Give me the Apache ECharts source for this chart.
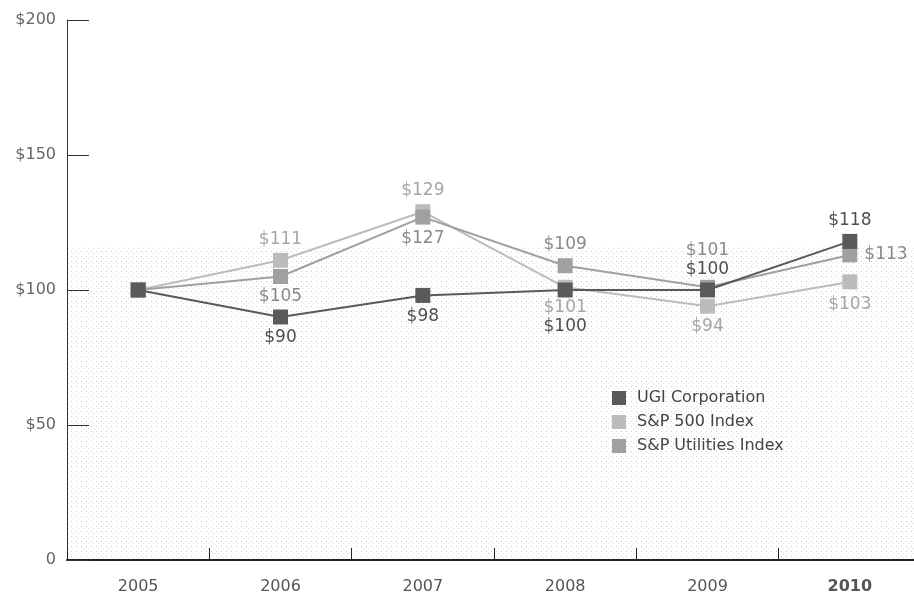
<!DOCTYPE html>
<html lang="en">
<head>
    <meta charset="UTF-8">
    <title>UGI total return</title>
    <style type="text/css">
        body{
            margin: 0;
            background-color: #fff;
        }
        #chart{
            width: 914px;
            height: 593px;
        }
    </style>
    <script src="https://cdn.jsdelivr.net/npm/echarts@6/dist/echarts.min.js"></script>
</head>
<body>
<div id="chart"></div>
<script type="text/javascript">
    var years = ['2005', '2006', '2007', '2008', '2009', '2010'];
    var ugi = [100, 90, 98, 100, 100, 118];
    var sp500 = [100, 111, 129, 101, 94, 103];
    var utilities = [100, 105, 127, 109, 101, 113];
    var yTicks = [0, 50, 100, 150, 200];

    var FONT = 'DejaVu Sans';

    // where each value label sits (null = no label)
    var ugiPos = [null, ['bottom', 5], ['bottom', 5], ['bottom', 21], ['top', 4], ['top', 5]];
    var spPos = [null, ['top', 5], ['top', 5], ['bottom', 4], ['bottom', 4], ['bottom', 7]];
    var utilPos = [null, ['bottom', 4], ['bottom', 5], ['top', 5], ['top', 21], ['right', 7]];

    function stipple() {
        var c = document.createElement('canvas');
        c.width = 5; c.height = 5;
        var ctx = c.getContext('2d');
        ctx.fillStyle = '#ffffff';
        ctx.fillRect(0, 0, 5, 5);
        ctx.fillStyle = '#cdcdcd';
        ctx.fillRect(1, 1, 1, 1);
        ctx.fillStyle = '#e0e0e0';
        ctx.fillRect(3, 3, 1, 1);
        return c;
    }

    function points(values, pos, color) {
        return values.map(function (v, i) {
            var item = {value: v};
            if (pos[i]) {
                item.label = {show: true, position: pos[i][0], distance: pos[i][1], color: color};
            }
            return item;
        });
    }

    function line(name, values, pos, color, labelColor, z) {
        return {
            name: name,
            type: 'line',
            data: points(values, pos, labelColor),
            symbol: 'rect',
            symbolSize: 15,
            z: z,
            lineStyle: {color: color, width: 2},
            itemStyle: {color: color},
            label: {
                formatter: '${c}',
                fontFamily: FONT,
                fontSize: 17
            },
            emphasis: {disabled: true}
        };
    }

    var chart = echarts.init(document.getElementById('chart'));
    var series = [
        line('S&P 500 Index', sp500, spPos, '#bcbcbc', '#a6a6a6', 2),
        line('S&P Utilities Index', utilities, utilPos, '#a0a0a0', '#8a8a8a', 3),
        line('UGI Corporation', ugi, ugiPos, '#5a5a5a', '#505050', 4)
    ];
    series[0].markArea = {
        silent: true,
        itemStyle: {color: {image: stipple(), repeat: 'repeat'}},
        data: [[{yAxis: 0}, {yAxis: 116}]]
    };

    chart.setOption({
        animation: false,
        grid: {left: 67, top: 20, width: 854, height: 540, outerBoundsMode: 'none'},
        legend: {
            data: ['UGI Corporation', 'S&P 500 Index', 'S&P Utilities Index'],
            orient: 'vertical',
            left: 612,
            top: 390,
            padding: 0,
            icon: 'rect',
            itemWidth: 14,
            itemHeight: 14,
            itemGap: 8,
            textStyle: {fontFamily: FONT, fontSize: 16, color: '#444', padding: [0, 0, 0, 6]},
            selectedMode: false
        },
        xAxis: {
            type: 'category',
            data: years,
            z: 10,
            boundaryGap: true,
            axisLine: {lineStyle: {color: '#222', width: 2}},
            axisTick: {show: true, alignWithLabel: false, interval: 0, inside: true, length: 12, lineStyle: {color: '#222', width: 1}},
            axisLabel: {
                margin: 19,
                fontFamily: FONT,
                fontSize: 16,
                color: '#555',
                formatter: function (v) {
                    return v === '2010' ? '{b|' + v + '}' : v;
                },
                rich: {b: {fontFamily: FONT, fontWeight: 'bold', fontSize: 16, color: '#555'}}
            }
        },
        yAxis: {
            type: 'value',
            z: 10,
            min: yTicks[0],
            max: yTicks[yTicks.length - 1],
            interval: 50,
            splitLine: {show: false},
            axisLine: {show: true, lineStyle: {color: '#333', width: 1}},
            axisTick: {show: true, inside: true, length: 22, lineStyle: {color: '#333'}},
            axisLabel: {
                margin: 11,
                padding: [4, 0, 0, 0],
                fontFamily: FONT,
                fontSize: 16,
                color: '#666',
                formatter: function (v) {
                    return v === 0 ? '0' : '$' + v;
                }
            }
        },
        series: series
    });
</script>
</body>
</html>
